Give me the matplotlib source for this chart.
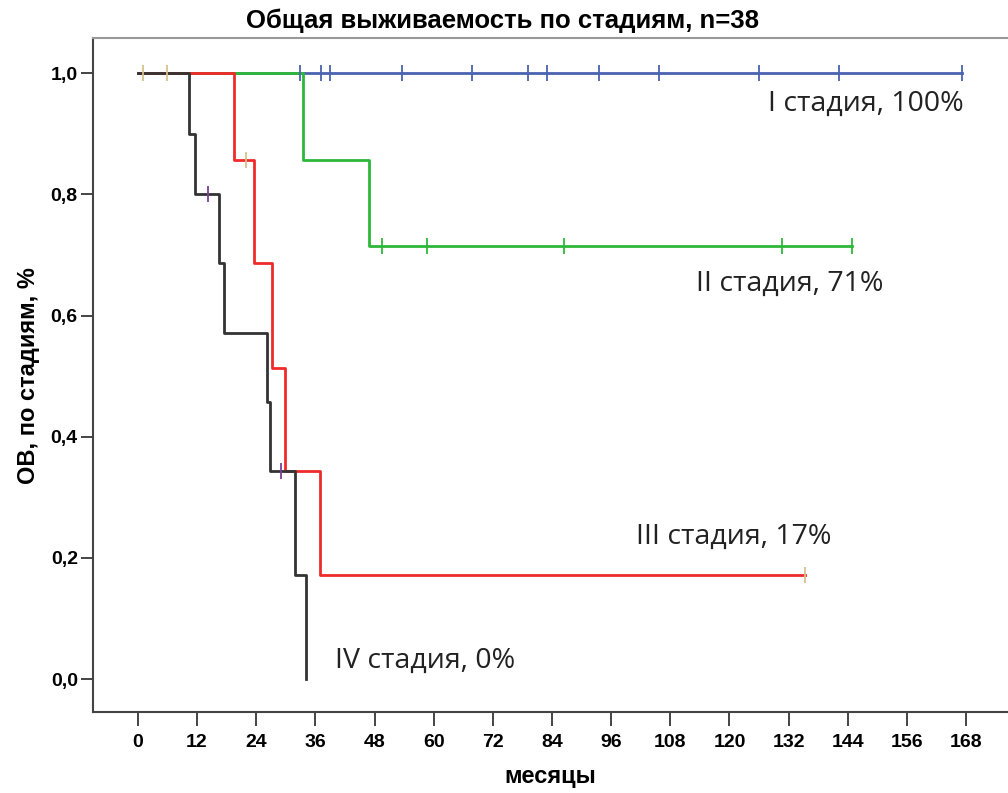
import matplotlib
matplotlib.use("Agg")
import matplotlib.pyplot as plt
import numpy as np

# Kaplan-Meier steps (months, survival)
st1_times = [0.0, 167.1]
st1_surv = [1.0, 1.0]
st1_cens = [32.9, 37.1, 39.0, 53.5, 67.7, 79.1, 83.0, 93.5, 105.7, 126.0, 142.2, 167.1]

st2_times = [0.0, 33.5, 46.9, 144.8]
st2_surv = [1.0, 0.857, 0.714, 0.714]
st2_cens = [49.5, 58.6, 86.4, 130.6, 144.8]

st3_times = [0.0, 19.5, 23.5, 27.2, 29.8, 36.9, 135.3]
st3_surv = [1.0, 0.857, 0.686, 0.514, 0.343, 0.171, 0.171]
st3_cens = [1.0, 6.0, 22.0, 135.3]

st4_times = [0.0, 10.3, 11.5, 16.4, 17.4, 26.2, 26.8, 31.8, 34.0]
st4_surv = [1.0, 0.9, 0.8, 0.686, 0.571, 0.457, 0.343, 0.171, 0.0]
st4_cens = [14.2, 29.0]

x_ticks = list(range(0, 169, 12))
y_ticks = [0.0, 0.2, 0.4, 0.6, 0.8, 1.0]

labels = ["I стадия, 100%", "II стадия, 71%", "III стадия, 17%", "IV стадия, 0%"]
label_pos = [(127.9, 0.950), (113.2, 0.653), (101.0, 0.234), (39.9, 0.030)]

plt.rcParams['font.family'] = ['Liberation Sans', 'DejaVu Sans']

fig = plt.figure(figsize=(10.08, 7.93), dpi=100)
ax = fig.add_axes([0.0923, 0.102, 0.9077, 0.850])


def surv_at(times, surv, t):
    idx = np.searchsorted(times, t, side='right') - 1
    return np.asarray(surv)[idx]


series = [
    (st1_times, st1_surv, st1_cens, '#4a62b0', '#4a62b0'),
    (st2_times, st2_surv, st2_cens, '#2eb83a', '#2eb83a'),
    (st3_times, st3_surv, st3_cens, '#f02a2a', '#d8c08a'),
    (st4_times, st4_surv, st4_cens, '#333333', '#7a3f9a'),
]

# lines first, censor ticks on top
for z, (t, s, c, col, ccol) in enumerate(series):
    ax.plot(t, s, drawstyle='steps-post', color=col, lw=2.0, zorder=2 + z)
for z, (t, s, c, col, ccol) in enumerate(series):
    ax.plot(c, surv_at(t, s, c), linestyle='none', marker='|', markersize=11,
            markeredgewidth=1.3, color=ccol, zorder=10)

for txt, (x, y) in zip(labels, label_pos):
    ax.text(x, y, txt, ha='left', va='center', fontsize=20.5,
            family=['Open Sans', 'DejaVu Sans'], color='#222222')

ax.set_xlim(-9.1, 176.5)
ax.set_ylim(-0.0545, 1.058)
ax.set_xticks(x_ticks)
ax.set_yticks(y_ticks)
ax.set_xticklabels([str(v) for v in x_ticks], fontsize=14, fontweight='bold')
ax.set_yticklabels([f"{v:.1f}".replace('.', ',') for v in y_ticks], fontsize=14, fontweight='bold')
ax.tick_params(axis='x', length=10, width=1.4, pad=6, color='#444444')
ax.tick_params(axis='y', length=9, width=1.4, pad=2, color='#444444')

ax.spines['right'].set_visible(False)
ax.spines['top'].set_color('#999999')
ax.spines['top'].set_linewidth(1.5)
for side in ['left', 'bottom']:
    ax.spines[side].set_color('#444444')
    ax.spines[side].set_linewidth(1.5)

ax.set_xlabel("месяцы", fontsize=17, fontweight='bold', labelpad=10)
ax.set_ylabel("ОВ, по стадиям, %", fontsize=17, fontweight='bold', labelpad=8)
fig.text(0.499, 0.974, "Общая выживаемость по стадиям, n=38", ha='center', va='center',
         fontsize=18.5, fontweight='bold')

fig.savefig("out.png", dpi=100)
